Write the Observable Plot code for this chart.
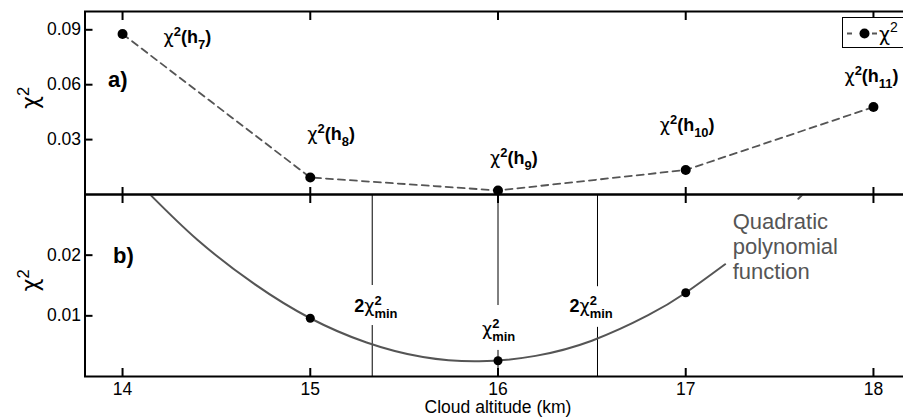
<!DOCTYPE html>
<html>
<head>
<meta charset="utf-8">
<script src="https://cdn.jsdelivr.net/npm/d3@7"></script>
<script src="https://cdn.jsdelivr.net/npm/@observablehq/plot@0.6"></script>
<style>
html, body { margin: 0; padding: 0; background: #fff; overflow: hidden; }
#wrap { position: relative; width: 903px; height: 417px; overflow: hidden; font-family: "Liberation Sans", Arial, Helvetica, sans-serif; }
#wrap > svg { position: absolute; left: 0; }
#legend { position: absolute; left: 842px; top: 17px; width: 90px; height: 29px; border: 1.5px solid #000; background: #fff; z-index: 5; }
</style>
</head>
<body>
<div id="wrap">
  <div id="legend">
    <svg width="90" height="29" style="overflow:visible">
      <line x1="4" x2="34" y1="15.5" y2="15.5" stroke="#555" stroke-width="1.8" stroke-dasharray="5,20"></line>
      <circle cx="21.5" cy="15.5" r="5" fill="#000"></circle>
      <text x="36" y="23" font-size="19" font-family="DejaVu Sans, sans-serif">χ<tspan font-size="14" font-family="Liberation Sans, Arial, sans-serif" dy="-9">2</tspan></text>
    </svg>
  </div>
</div>
<script>
// ---- data ----
const altitudes = [14, 15, 16, 17, 18];
const chi2Values = [0.0877, 0.0093, 0.0022, 0.0134, 0.0478];
const pointLabels = ["χ^{2}(h_{7})", "χ^{2}(h_{8})", "χ^{2}(h_{9})", "χ^{2}(h_{10})", "χ^{2}(h_{11})"];

const fitAltitudes = [15, 16, 17];
const fitValues = [0.0096, 0.0026, 0.0138];

const curveAltitudes = [14.15, 14.4, 14.7, 15.0, 15.3, 15.6, 15.9, 16.2, 16.5, 16.8, 17.0, 17.21, 17.4, 17.6, 17.62];
const curveValues    = [0.0299, 0.0225, 0.0153, 0.0096, 0.0056, 0.0032, 0.0025, 0.0034, 0.0059, 0.0101, 0.0138, 0.0185, null, 0.0293, 0.0299];

const thresholdAltitudes = [15.33, 16.53];
const minAltitude = 16;

// vertical reference lines, drawn as segments (interrupted where the labels sit)
const ruleAltitudes = [15.33, 15.33, 16, 16, 16.53, 16.53];
const ruleFrom      = [0, 0.0150, 0, 0.0117, 0, 0.0148];
const ruleTo        = [0.0084, 0.03, 0.0043, 0.03, 0.0081, 0.03];

const xTicks = [14, 15, 16, 17, 18];
const yTicksTop = [0.03, 0.06, 0.09];
const yTicksBottom = [0.01, 0.02];

const thresholdLabel = "2χ^{2}_{min}";
const minLabel = "χ^{2}_{min}";
const fitLabel = "Quadratic\npolynomial\nfunction";
const xTitle = "Cloud altitude (km)";
const yTitle = "χ^{2}";
const panelLabels = ["a)", "b)"];

// ---- tables ----
const topData = altitudes.map((a, i) => ({alt: a, chi: chi2Values[i], label: pointLabels[i]}));
const fitData = fitAltitudes.map((a, i) => ({alt: a, chi: fitValues[i]}));
const curveData = curveAltitudes.map((a, i) => ({alt: a, chi: curveValues[i] == null ? NaN : curveValues[i]}));
const ruleData = ruleAltitudes.map((a, i) => ({alt: a, y1: ruleFrom[i], y2: ruleTo[i]}));

const FONT = '"Liberation Sans", Arial, Helvetica, sans-serif';
const TICK_FS = 17.5;
const common = {
  width: 911,
  marginLeft: 84.5,
  marginRight: 0.5,
  x: {domain: [13.8, 18.2], label: null},
  style: {fontFamily: FONT, fontSize: "17px", background: "transparent", maxWidth: "none", overflow: "visible", color: "#000"}
};
const fmtY = d3.format(".2f");
const fmtX = d3.format("d");

function pointLabel(i, dx, dy) {
  return Plot.text([topData[i]], {x: "alt", y: "chi", text: "label", dx, dy, textAnchor: "start", lineAnchor: "middle", fontWeight: "bold", fontSize: 18});
}
function lineLabel(text, x, dx, dy) {
  return Plot.text([text], {x, frameAnchor: "bottom", dx, dy, textAnchor: "start", lineAnchor: "middle", fontWeight: "bold", fontSize: 18, fill: "#000"});
}

const topPlot = Plot.plot({
  ...common,
  height: 200,
  marginTop: 11,
  marginBottom: 6,
  y: {domain: [0, 0.1], label: null},
  marks: [
    Plot.line(topData, {x: "alt", y: "chi", stroke: "#555", strokeWidth: 1.8, strokeDasharray: "7,5"}),
    Plot.dot(topData, {x: "alt", y: "chi", r: 5, fill: "#000"}),
    pointLabel(0, 41, 3),
    pointLabel(1, -3, -43.5),
    pointLabel(2, -8, -32),
    pointLabel(3, -26, -45),
    pointLabel(4, -29, -31),
    Plot.text([panelLabels[0]], {frameAnchor: "top-left", dx: 23, dy: 68.5, textAnchor: "start", lineAnchor: "middle", fontWeight: "bold", fontSize: 22}),
    Plot.text([yTitle], {frameAnchor: "left", dx: -54, dy: 6, rotate: -90, lineAnchor: "middle", fontSize: 23}),
    Plot.frame({stroke: "#000", strokeWidth: 2}),
    Plot.axisX(xTicks, {anchor: "top", tickSize: -8, strokeWidth: 2, tickFormat: () => "", label: null}),
    Plot.axisX(xTicks, {anchor: "bottom", tickSize: -7, strokeWidth: 2, tickFormat: () => "", label: null}),
    Plot.axisY(yTicksTop, {anchor: "left", tickSize: -8, strokeWidth: 2, tickPadding: 12, tickFormat: fmtY, fontSize: TICK_FS, label: null})
  ]
});

const bottomPlot = Plot.plot({
  ...common,
  height: 229,
  marginTop: 6,
  marginBottom: 41,
  y: {domain: [0, 0.03], label: null},
  marks: [
    Plot.ruleX(ruleData, {x: "alt", y1: "y1", y2: "y2", stroke: "#000", strokeWidth: 1}),
    Plot.line(curveData, {x: "alt", y: "chi", stroke: "#555", strokeWidth: 2, curve: "natural"}),
    Plot.dot(fitData, {x: "alt", y: "chi", r: 4.5, fill: "#000"}),
    lineLabel(thresholdLabel, thresholdAltitudes[0], -18, -70),
    lineLabel(thresholdLabel, thresholdAltitudes[1], -28, -70),
    lineLabel(minLabel, minAltitude, -16, -47),
    Plot.text([fitData[2]], {x: "alt", y: "chi", text: () => fitLabel, dx: 47, dy: -81.5, textAnchor: "start", lineAnchor: "top", lineHeight: 1.136, fontSize: 22, fill: "#555"}),
    Plot.text([panelLabels[1]], {frameAnchor: "top-left", dx: 28, dy: 61, textAnchor: "start", lineAnchor: "middle", fontWeight: "bold", fontSize: 22}),
    Plot.text([yTitle], {frameAnchor: "left", dx: -54, dy: 6, rotate: -90, lineAnchor: "middle", fontSize: 23}),
    Plot.text([xTitle], {frameAnchor: "bottom", dy: 31, lineAnchor: "middle", fontSize: 17.5}),
    Plot.frame({stroke: "#000", strokeWidth: 2}),
    Plot.axisX(xTicks, {anchor: "top", tickSize: -8, strokeWidth: 2, tickFormat: () => "", label: null}),
    Plot.axisX(xTicks, {anchor: "bottom", tickSize: -8, strokeWidth: 2, tickPadding: 14, tickFormat: fmtX, fontSize: TICK_FS, label: null}),
    Plot.axisY(yTicksBottom, {anchor: "left", tickSize: -8, strokeWidth: 2, tickPadding: 12, tickFormat: fmtY, fontSize: TICK_FS, label: null})
  ]
});

const wrap = document.getElementById("wrap");
topPlot.style.top = "0px";
bottomPlot.style.top = "188px";
wrap.insertBefore(topPlot, wrap.firstChild);
wrap.insertBefore(bottomPlot, document.getElementById("legend"));

// ---- rich text: ^{sup}, _{sub}, χ in regular weight ----
const NS = "http://www.w3.org/2000/svg";
function richify(svg) {
  svg.querySelectorAll("text").forEach(t => {
    const s = t.textContent;
    if (!/[\^_]\{/.test(s)) return;
    const fs = parseFloat(getComputedStyle(t).fontSize) || 17;
    const parts = s.split(/(\^\{[^}]*\}|_\{[^}]*\}|χ)/).filter(p => p !== "");
    t.textContent = "";
    let off = 0, lastSup = null;
    parts.forEach(p => {
      const ts = document.createElementNS(NS, "tspan");
      let target = 0, kind = "n";
      if (p.startsWith("^{")) { ts.textContent = p.slice(2, -1); kind = "sup"; target = -0.4 * fs; ts.setAttribute("font-size", (0.72 * fs) + "px"); }
      else if (p.startsWith("_{")) { ts.textContent = p.slice(2, -1); kind = "sub"; target = 0.32 * fs; ts.setAttribute("font-size", (0.72 * fs) + "px"); }
      else {
        ts.textContent = p;
        if (p === "χ") { ts.setAttribute("font-weight", "normal"); ts.setAttribute("font-family", "DejaVu Sans, sans-serif"); ts.setAttribute("font-size", (0.98 * fs) + "px"); }
      }
      if (Math.abs(target - off) > 1e-6) ts.setAttribute("dy", (target - off).toFixed(2));
      off = target;
      t.appendChild(ts);
      if (kind === "sub" && lastSup) {
        ts.setAttribute("dx", (-lastSup.getComputedTextLength()).toFixed(2));
      }
      lastSup = kind === "sup" ? ts : null;
    });
  });
}
richify(topPlot);
richify(bottomPlot);
</script>
</body>
</html>
